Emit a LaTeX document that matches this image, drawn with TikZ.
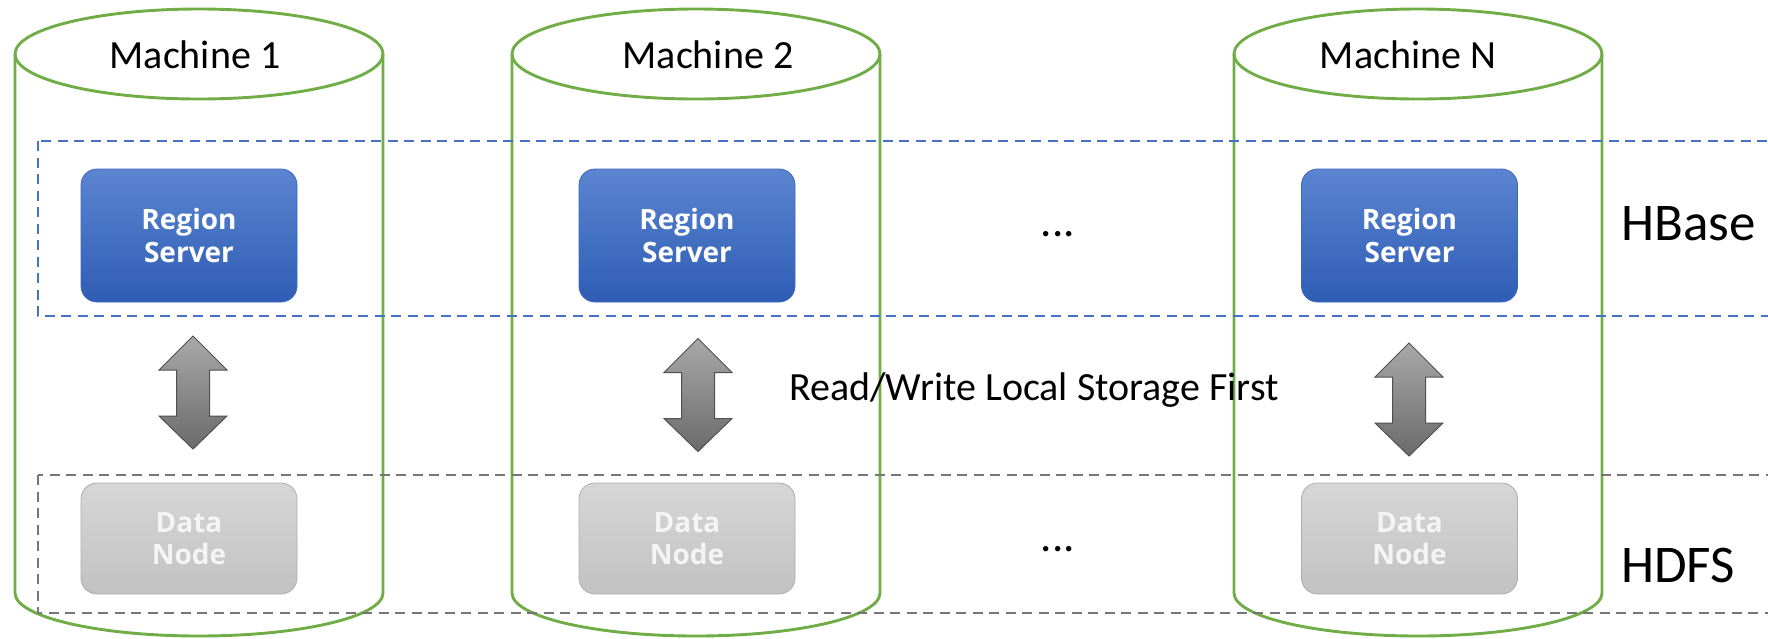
\documentclass[tikz,border=0pt]{standalone}
\usepackage{fontspec}
\setmainfont{Carlito}
\newfontfamily\boxfont{Open Sans}
\definecolor{cgreen}{HTML}{70AD47}
\definecolor{hbblue}{HTML}{4472C4}
\definecolor{hdgray}{HTML}{767676}
\definecolor{rstop}{HTML}{5B85D0}
\definecolor{rsbot}{HTML}{2F5DB5}
\definecolor{rsedge}{HTML}{3C66BE}
\definecolor{dntop}{HTML}{D6D6D6}
\definecolor{dnbot}{HTML}{C2C2C2}
\definecolor{dnedge}{HTML}{ADADAD}
\definecolor{dntext}{HTML}{F4F4F4}
\definecolor{arrtop}{HTML}{A8A8A8}
\definecolor{arrbot}{HTML}{6B6B6B}
\definecolor{arredge}{HTML}{505050}
\newcommand\dblarrow[1]{%
  \path[blockarrow,shift={(#1)}] (0,-56.5) -- (34,-22.5) -- (16.5,-22.5) -- (16.5,23.5)
    -- (34,23.5) -- (0,56.5) -- (-34,23.5) -- (-16.5,23.5) -- (-16.5,-22.5) -- (-34,-22.5) -- cycle;}
\begin{document}
\begin{tikzpicture}[x=1pt,y=-1pt,
  cyl/.style={draw=cgreen, line width=2.9pt},
  layerbox/.style={line width=2.7pt, dash pattern=on 10pt off 6.5pt},
  boxbase/.style={rounded corners=16pt, minimum width=216pt, inner sep=0pt, align=center,
    font=\boxfont\bfseries\fontsize{28}{32.5}\selectfont},
  rsbox/.style={boxbase, minimum height=133pt, top color=rstop, bottom color=rsbot,
    draw=rsedge, line width=0.8pt, text=white},
  dnbox/.style={boxbase, minimum height=111pt, top color=dntop, bottom color=dnbot,
    draw=dnedge, line width=0.8pt, text=dntext},
  lbl/.style={font=\fontsize{40}{48}\selectfont, inner sep=0pt, anchor=base},
  dotlbl/.style={font=\fontsize{45}{50}\selectfont, inner sep=0pt, anchor=base},
  biglbl/.style={font=\fontsize{53}{60}\selectfont, inner sep=0pt, anchor=base west},
  blockarrow/.style={draw=arredge, line width=1pt, top color=arrtop, bottom color=arrbot}
]
\useasboundingbox (0,0) rectangle (1768,638);
\clip (0,0) rectangle (1768,638);

% cylinders
\foreach \cx/\nm in {199/c1, 696/c2, 1418/cN}{
  \draw[cyl] (\cx-184,54) -- (\cx-184,593) arc[start angle=180, end angle=0, x radius=184, y radius=43] -- (\cx+184,54);
  \draw[cyl] (\cx,54) ellipse[x radius=184, y radius=45];
}

% layer frames
\draw[layerbox, draw=hbblue] (38,141) rectangle (1800,316);
\draw[layerbox, draw=hdgray] (38,475) rectangle (1800,613);

% machine labels
\node[lbl] (m1) at (195,68) {Machine 1};
\node[lbl] (m2) at (708,68) {Machine 2};
\node[lbl] (mN) at (1408,68) {Machine N};

% region servers
\node[rsbox] (rs1) at (189,235.5) {Region\\Server};
\node[rsbox] (rs2) at (687,235.5) {Region\\Server};
\node[rsbox] (rsN) at (1409.5,235.5) {Region\\Server};

% data nodes
\node[dnbox] (dn1) at (189,538.5) {Data\\Node};
\node[dnbox] (dn2) at (687,538.5) {Data\\Node};
\node[dnbox] (dnN) at (1409.5,538.5) {Data\\Node};

% block arrows
\coordinate (a1) at (193,392.5);
\coordinate (a2) at (698,395);
\coordinate (aN) at (1409,399.5);
\dblarrow{a1}
\dblarrow{a2}
\dblarrow{aN}

% dots
\node[dotlbl] (d1) at (1058,236.5) {...};
\node[dotlbl] (d2) at (1058,551.5) {...};

% texts
\node[lbl, anchor=base west] (rw) at (789,400) {Read/Write Local Storage First};
\node[biglbl] (hb) at (1621,240) {HBase};
\node[biglbl] (hd) at (1621,582) {HDFS};
\end{tikzpicture}
\end{document}
